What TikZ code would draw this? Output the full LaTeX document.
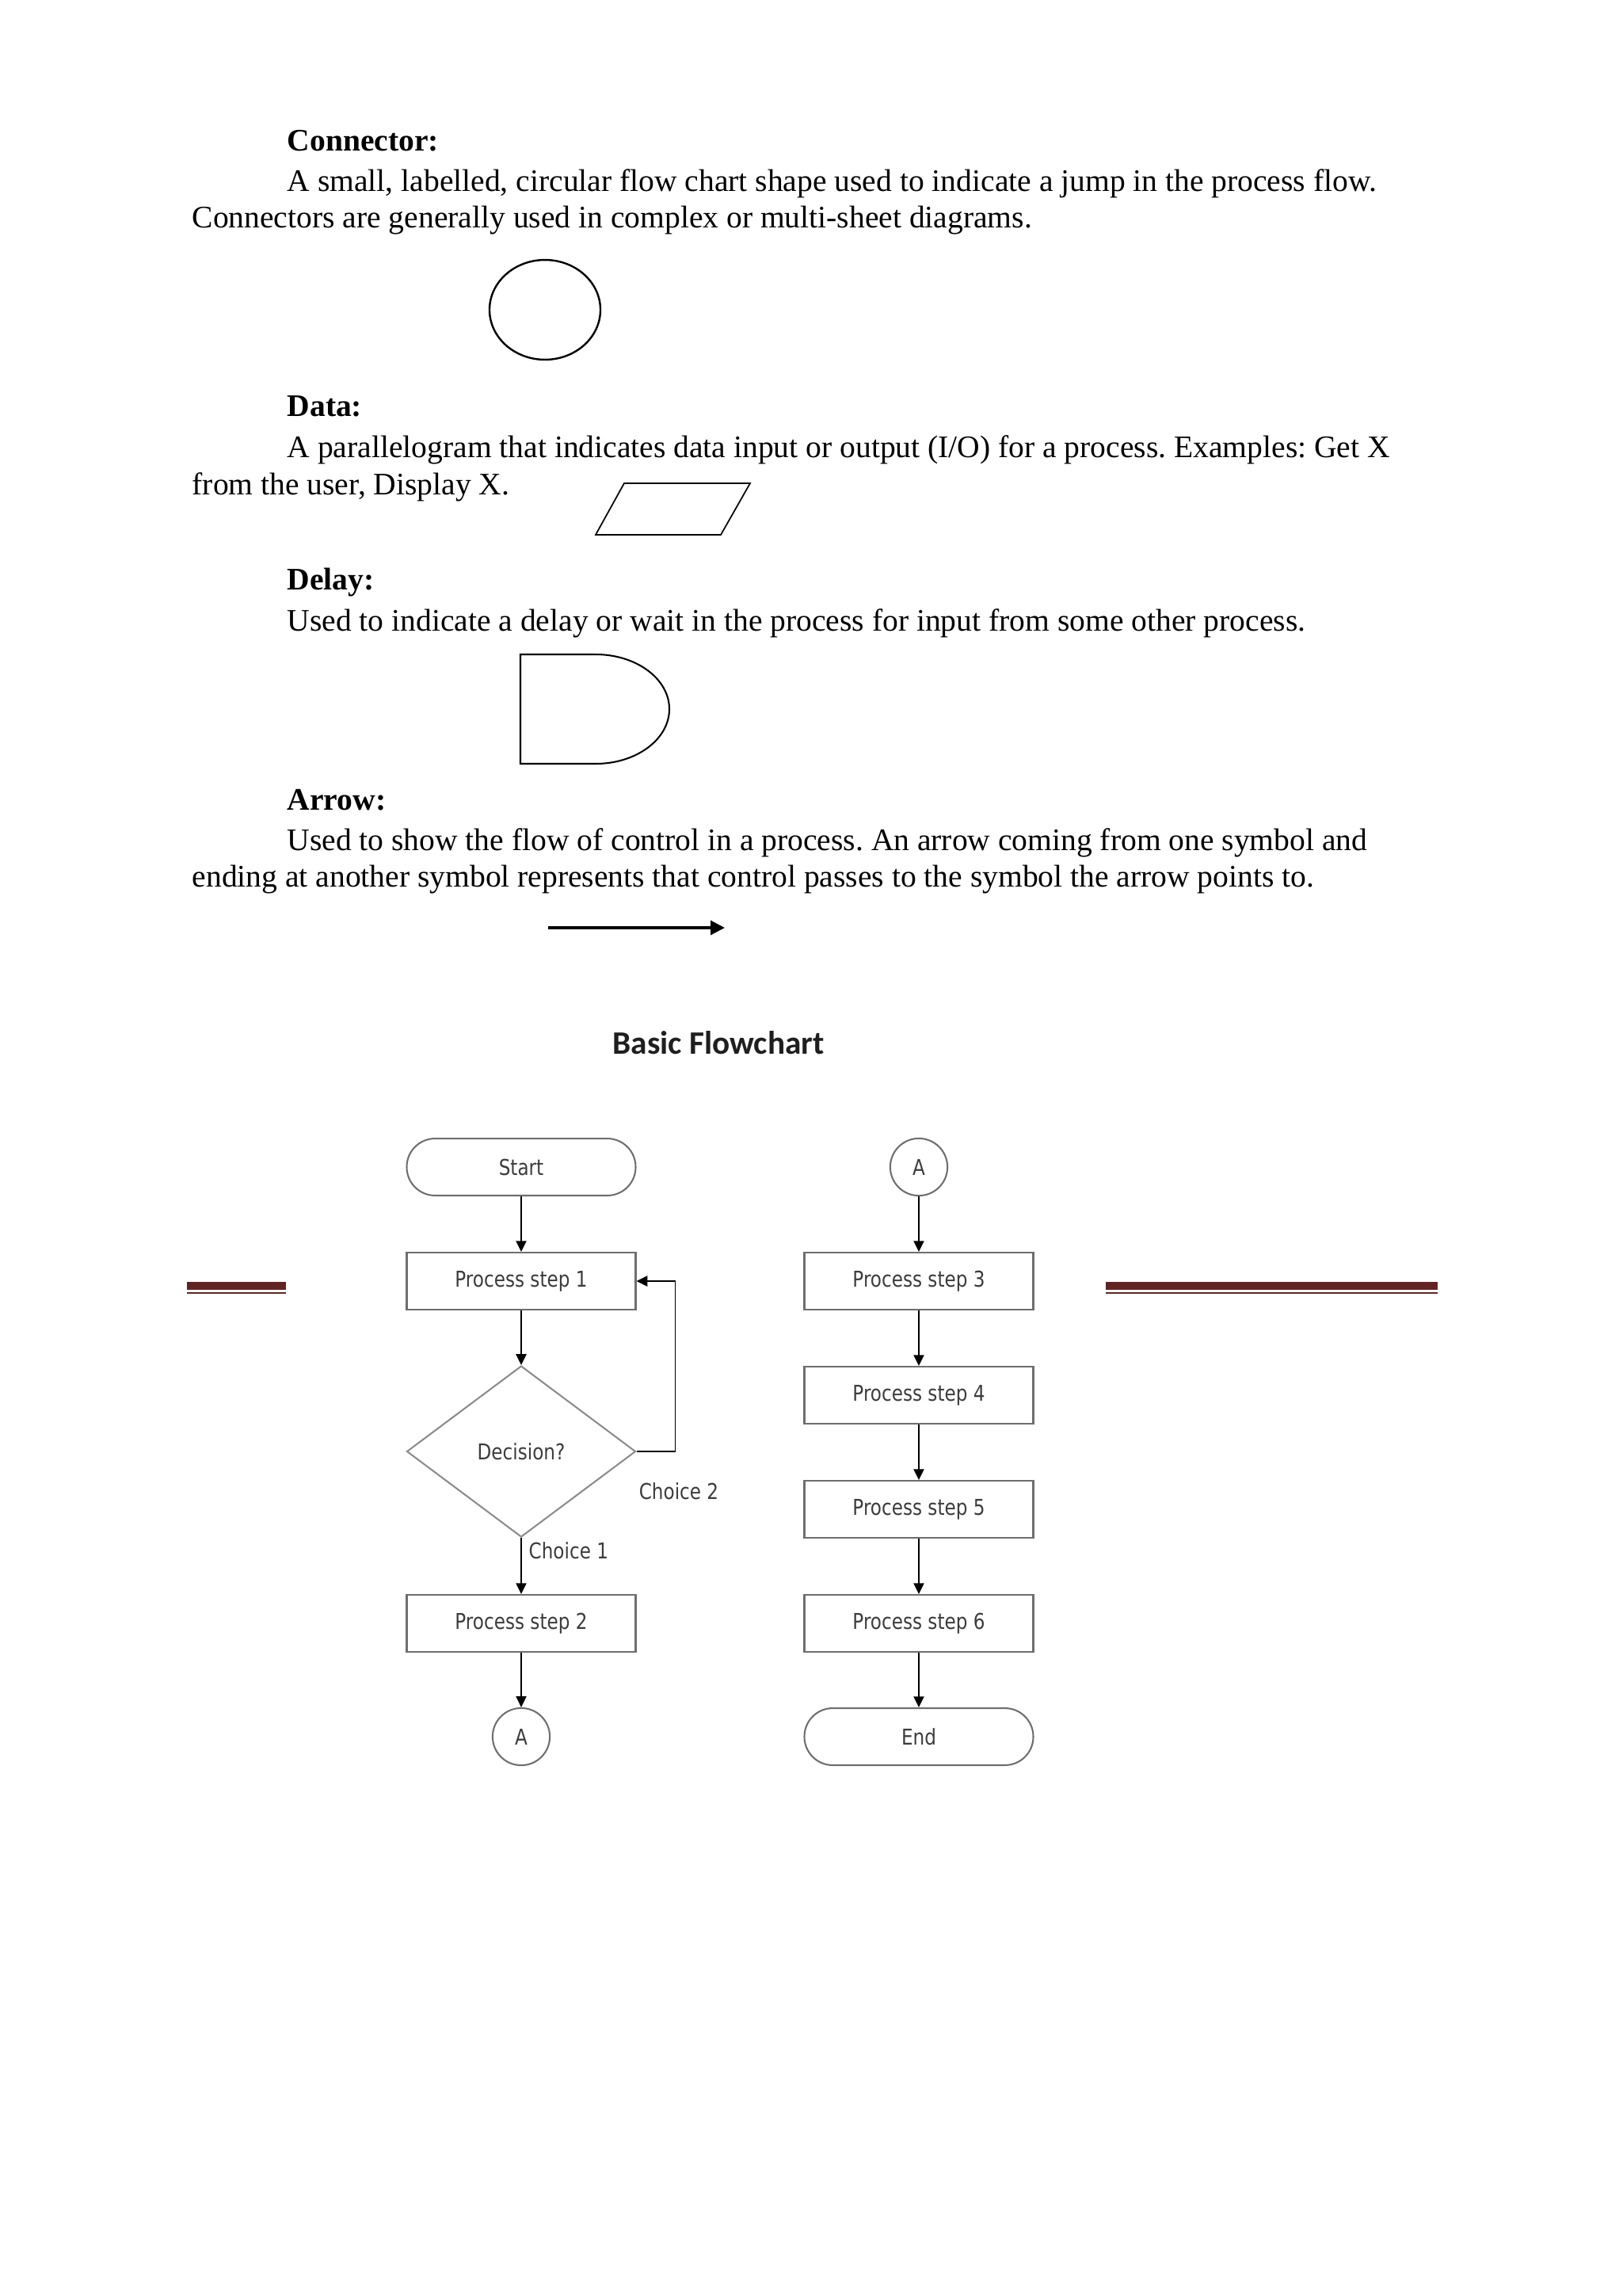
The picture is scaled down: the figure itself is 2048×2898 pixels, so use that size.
\documentclass[tikz,border=0pt]{standalone}
\usepackage{fontspec}
\setmainfont{Liberation Serif}
\newfontfamily\chartfont[FakeStretch=0.84]{DejaVu Sans}
\newfontfamily\titlefont{Carlito}
\usepackage{xcolor}
\usepackage{tikz}
\usetikzlibrary{shapes.geometric, arrows.meta, positioning}
\frenchspacing

\definecolor{headrule}{HTML}{622423}
\definecolor{boxgray}{HTML}{6E6E6E}
\definecolor{inkgray}{HTML}{3C3C3C}
\newcommand{\flowtext}{\chartfont\fontsize{8}{9.6}\selectfont}
\newcommand{\bodytext}{\fontsize{11.5}{13.8}\selectfont}

\begin{document}
\begin{tikzpicture}[
    x=0.29066pt,
    y=-0.29066pt,
    heading/.style={
        anchor=base west,
        inner sep=0pt,
        font=\bodytext\bfseries
    },
    para/.style={
        anchor=base west,
        inner sep=0pt,
        font=\bodytext
    },
    symbol/.style={
        draw=black,
        line width=0.7pt
    },
    pointer/.style={
        -{Triangle[length=5.2pt,width=5.2pt]},
        line width=0.9pt
    },
    process/.style={
        rectangle,
        draw=boxgray,
        line width=0.6pt,
        minimum width=84pt,
        minimum height=20.9pt,
        font=\flowtext,
        text=inkgray
    },
    terminal/.style={
        process,
        rounded corners=10.4pt
    },
    decision/.style={
        diamond,
        draw=boxgray!80,
        line width=0.6pt,
        aspect=1.34,
        minimum width=84pt,
        minimum height=62.8pt,
        inner sep=0pt,
        font=\flowtext,
        text=inkgray
    },
    jump/.style={
        circle,
        draw=boxgray,
        line width=0.6pt,
        minimum size=21pt,
        inner sep=0pt,
        font=\flowtext,
        text=inkgray
    },
    flow/.style={
        -{Triangle[length=4pt,width=3.8pt]},
        line width=0.55pt,
        draw=black
    },
    choice/.style={
        font=\flowtext,
        text=inkgray,
        inner sep=0pt
    }
]
    \useasboundingbox (0,0) rectangle (2048,2898);

    % Connector
    \node [heading] (hconn) at (362,190) {Connector:};
    \node [para] (tconn1) at (362,241) {A small, labelled, circular flow chart shape used to indicate a jump in the process flow.};
    \node [para] (tconn2) at (242,287) {Connectors are generally used in complex or multi-sheet diagrams.};
    \node [ellipse, symbol, minimum width=40.7pt, minimum height=36.6pt] (connsym) at (688,391) {};

    % Data
    \node [heading] (hdata) at (362,525) {Data:};
    \node [para] (tdata1) at (362,577) {A parallelogram that indicates data input or output (I/O) for a process. Examples: Get X};
    \node [para] (tdata2) at (242,624) {from the user, Display X.};
    \draw [symbol, line width=0.5pt] (788,610) -- (947,610) -- (910,675) -- (752,675) -- cycle;

    % Delay
    \node [heading] (hdelay) at (362,744) {Delay:};
    \node [para] (tdelay) at (362,796) {Used to indicate a delay or wait in the process for input from some other process.};
    \draw [symbol, line width=0.6pt] (657,826) -- (657,964) -- (752,964)
        arc [start angle=90, end angle=-90, x radius=93, y radius=69] -- cycle;

    % Arrow
    \node [heading] (harrow) at (362,1022) {Arrow:};
    \node [para] (tarrow1) at (362,1073) {Used to show the flow of control in a process. An arrow coming from one symbol and};
    \node [para] (tarrow2) at (242,1119) {ending at another symbol represents that control passes to the symbol the arrow points to.};
    \coordinate (arrowtail) at (692,1171);
    \coordinate (arrowtip) at (915,1171);
    \draw [pointer] (arrowtail) -- (arrowtip);

    % Title
    \node [font=\titlefont\bfseries\fontsize{12}{14}\selectfont, text=black!88] (title) at (907,1316) {Basic Flowchart};

    % Page rules
    \draw [headrule, line width=2.9pt] (236,1623) -- (361,1623);
    \draw [headrule, line width=0.6pt] (236,1632) -- (361,1632);
    \draw [headrule, line width=2.9pt] (1396,1623) -- (1815,1623);
    \draw [headrule, line width=0.6pt] (1396,1632) -- (1815,1632);

    % Left column
    \node [terminal] (start) at (658,1473) {Start};
    \node [process] (stepA) at (658,1617) {Process step 1};
    \node [decision] (choose) at (658,1832) {Decision?};
    \node [process] (stepB) at (658,2049) {Process step 2};
    \node [jump] (jumpOut) at (658,2192) {A};

    % Right column
    \node [jump] (jumpIn) at (1160,1473) {A};
    \node [process] (stepC) at (1160,1617) {Process step 3};
    \node [process] (stepD) at (1160,1761) {Process step 4};
    \node [process] (stepE) at (1160,1905) {Process step 5};
    \node [process] (stepF) at (1160,2049) {Process step 6};
    \node [terminal] (finish) at (1160,2192) {End};

    % Labels
    \node [choice, anchor=west] (pickOne) at (667,1957) {Choice 1};
    \node [choice] (pickTwo) at (857,1882) {Choice 2};

    % Connections
    \draw [flow] (start) -- (stepA);
    \draw [flow] (stepA) -- (choose);
    \draw [flow] (choose) -- (stepB);
    \draw [flow] (stepB) -- (jumpOut);
    \draw [flow] (choose.east) -- ++(49,0) |- (stepA.east);

    \draw [flow] (jumpIn) -- (stepC);
    \draw [flow] (stepC) -- (stepD);
    \draw [flow] (stepD) -- (stepE);
    \draw [flow] (stepE) -- (stepF);
    \draw [flow] (stepF) -- (finish);

\end{tikzpicture}
\end{document}
